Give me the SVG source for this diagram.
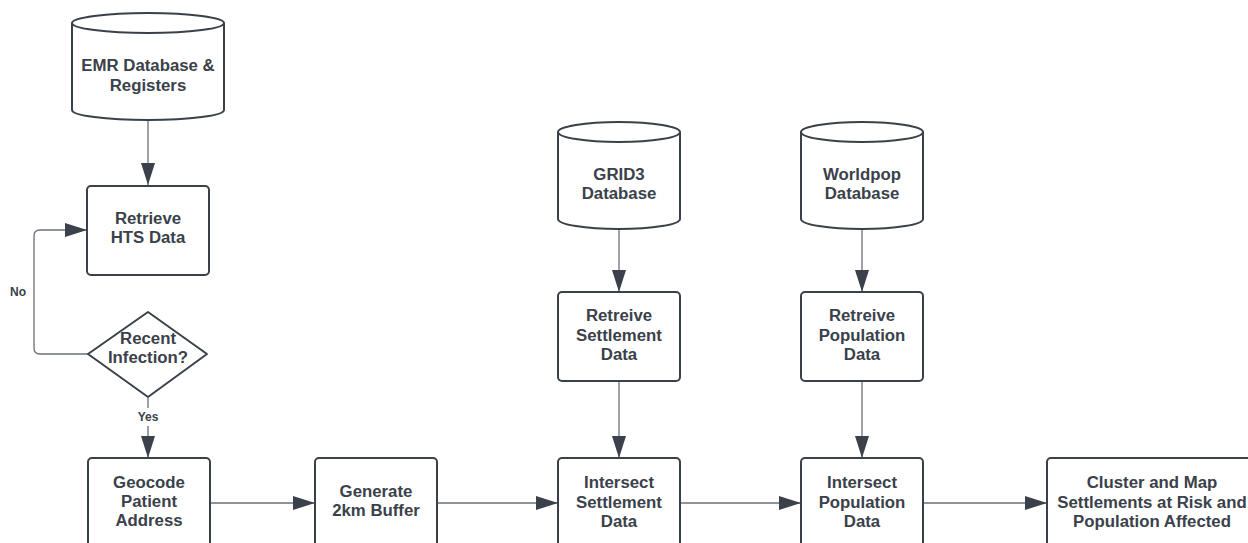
<svg xmlns="http://www.w3.org/2000/svg" width="1248" height="543" viewBox="0 0 1248 543">
<defs>
<style>
.shape{fill:#fff;stroke:#3a414a;stroke-width:2;stroke-linejoin:round}
.t{font-family:"Liberation Sans",Arial,sans-serif;font-weight:bold;font-size:16.8px;fill:#3a414a;text-anchor:middle}
.lbl{font-family:"Liberation Sans",Arial,sans-serif;font-weight:bold;font-size:12px;fill:#3a414a;text-anchor:middle}
.c{fill:none;stroke:#6b7079;stroke-width:1.3}
</style>
<marker id="ah" markerWidth="22" markerHeight="14" refX="22" refY="7" orient="auto" markerUnits="userSpaceOnUse">
<path d="M0,0 L22,7 L0,14 Z" fill="#3a414a"/>
</marker>
</defs>
<rect width="1248" height="543" fill="#fff"/>

<g id="connectors">
<line class="c" x1="148" y1="121" x2="148" y2="185" marker-end="url(#ah)"/>
<path class="c" d="M88,354 H40 Q34,354 34,348 V236 Q34,230 40,230 H87" marker-end="url(#ah)"/>
<path class="c" d="M148,398 V408 M148,426 V458" marker-end="url(#ah)"/>
<line class="c" x1="210" y1="503" x2="315" y2="503" marker-end="url(#ah)"/>
<line class="c" x1="437" y1="503" x2="558" y2="503" marker-end="url(#ah)"/>
<line class="c" x1="680" y1="503" x2="801" y2="503" marker-end="url(#ah)"/>
<line class="c" x1="923" y1="503" x2="1047" y2="503" marker-end="url(#ah)"/>
<line class="c" x1="619" y1="229" x2="619" y2="292" marker-end="url(#ah)"/>
<line class="c" x1="862" y1="229" x2="862" y2="292" marker-end="url(#ah)"/>
<line class="c" x1="619" y1="381" x2="619" y2="458" marker-end="url(#ah)"/>
<line class="c" x1="862" y1="381" x2="862" y2="458" marker-end="url(#ah)"/>
<text class="lbl" x="18" y="296">No</text>
<text class="lbl" x="148" y="421">Yes</text>
</g>

<g id="emr">
<path class="shape" d="M72,23 V110 A76,10 0 0 0 224,110 V23"/>
<ellipse class="shape" cx="148" cy="23" rx="76" ry="10"/>
<text class="t" x="148" y="71">EMR Database &amp;</text>
<text class="t" x="148" y="91">Registers</text>
</g>

<g id="retrieve-hts">
<rect class="shape" x="87" y="186" width="122" height="89" rx="4"/>
<text class="t" x="148" y="224">Retrieve</text>
<text class="t" x="148" y="243">HTS Data</text>
</g>

<g id="recent-infection">
<path class="shape" d="M148,312 L207,354 L148,397 L88,354 Z"/>
<text class="t" x="148" y="344">Recent</text>
<text class="t" x="148" y="363">Infection?</text>
</g>

<g id="geocode">
<rect class="shape" x="88" y="458" width="122" height="95" rx="4"/>
<text class="t" x="149" y="488">Geocode</text>
<text class="t" x="149" y="507">Patient</text>
<text class="t" x="149" y="526">Address</text>
</g>

<g id="buffer">
<rect class="shape" x="315" y="458" width="122" height="95" rx="4"/>
<text class="t" x="376" y="497">Generate</text>
<text class="t" x="376" y="516">2km Buffer</text>
</g>

<g id="grid3">
<path class="shape" d="M558,132 V219 A61,10 0 0 0 680,219 V132"/>
<ellipse class="shape" cx="619" cy="132" rx="61" ry="10"/>
<text class="t" x="619" y="180">GRID3</text>
<text class="t" x="619" y="199">Database</text>
</g>

<g id="retrieve-settlement">
<rect class="shape" x="558" y="292" width="122" height="89" rx="4"/>
<text class="t" x="619" y="321">Retreive</text>
<text class="t" x="619" y="341">Settlement</text>
<text class="t" x="619" y="360">Data</text>
</g>

<g id="intersect-settlement">
<rect class="shape" x="558" y="458" width="122" height="95" rx="4"/>
<text class="t" x="619" y="488">Intersect</text>
<text class="t" x="619" y="508">Settlement</text>
<text class="t" x="619" y="527">Data</text>
</g>

<g id="worldpop">
<path class="shape" d="M801,132 V219 A61,10 0 0 0 923,219 V132"/>
<ellipse class="shape" cx="862" cy="132" rx="61" ry="10"/>
<text class="t" x="862" y="180">Worldpop</text>
<text class="t" x="862" y="199">Database</text>
</g>

<g id="retrieve-population">
<rect class="shape" x="801" y="292" width="122" height="89" rx="4"/>
<text class="t" x="862" y="321">Retreive</text>
<text class="t" x="862" y="341">Population</text>
<text class="t" x="862" y="360">Data</text>
</g>

<g id="intersect-population">
<rect class="shape" x="801" y="458" width="122" height="95" rx="4"/>
<text class="t" x="862" y="488">Intersect</text>
<text class="t" x="862" y="508">Population</text>
<text class="t" x="862" y="527">Data</text>
</g>

<g id="cluster">
<rect class="shape" x="1047" y="458" width="215" height="95" rx="4"/>
<text class="t" x="1152" y="488">Cluster and Map</text>
<text class="t" x="1152" y="508">Settlements at Risk and</text>
<text class="t" x="1152" y="527">Population Affected</text>
</g>
</svg>
